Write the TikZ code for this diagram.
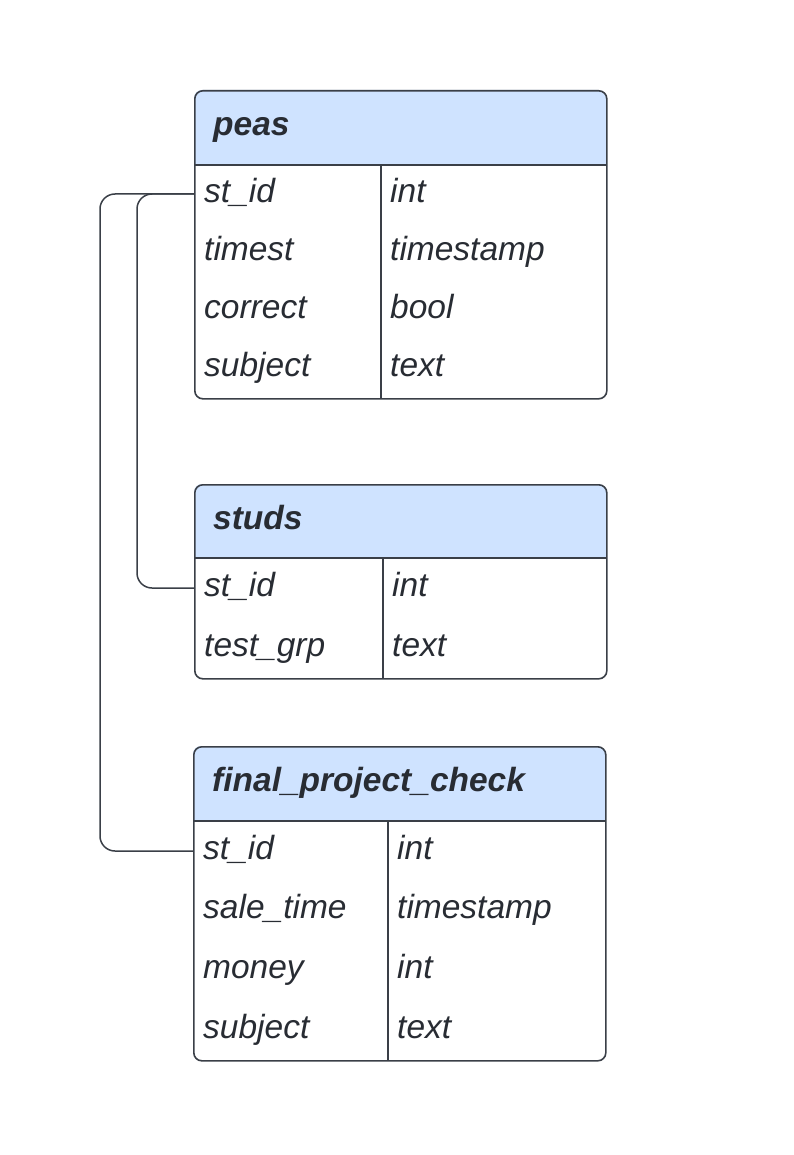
\documentclass[tikz,border=0pt]{standalone}
\usepackage{fontspec}
\setmainfont{Liberation Sans}
\usetikzlibrary{positioning}
\definecolor{edge}{HTML}{3A3F47}
\definecolor{ink}{HTML}{282C33}
\definecolor{headblue}{HTML}{CFE3FF}

\begin{document}
\begin{tikzpicture}[x=1pt, y=-1pt,
  tbl/.style={draw=edge, line width=1.6pt, rounded corners=8pt, minimum width=412pt, anchor=north west, inner sep=0pt},
  title/.style={font=\fontsize{33.5}{40}\selectfont\bfseries\itshape, text=ink, anchor=west, text height=24pt, text depth=7pt, inner sep=0pt},
  field/.style={font=\fontsize{33.5}{40}\selectfont\itshape, text=ink, anchor=west, text height=24pt, text depth=7pt, inner sep=0pt},
  rule/.style={draw=edge, line width=1.6pt},
  link/.style={draw=edge, line width=1.5pt, rounded corners=15pt}]
  \useasboundingbox[fill=white] (0,0) rectangle (793,1155);
  % header fills
  \fill[headblue, rounded corners=8pt] (194,90) rectangle (606,165);
  \fill[headblue] (194,130) rectangle (606,165);
  \fill[headblue, rounded corners=8pt] (194,484) rectangle (606,558);
  \fill[headblue] (194,520) rectangle (606,558);
  \fill[headblue, rounded corners=8pt] (193,746) rectangle (605,821);
  \fill[headblue] (193,780) rectangle (605,821);
  % peas
  \node[tbl, minimum height=308pt] (peas) at (194,90) {};
  \draw[rule] (194,165) -- (606,165);
  \draw[rule] (381,165) -- (381,398);
  \node[title] (peas name) at (213,127) {peas};
  \node[field] (peas id) at (204,194) {st\_id};
  \node[field] (peas ts) at (204,252) {timest};
  \node[field] (peas ok) at (204,310) {correct};
  \node[field] (peas subj) at (204,368) {subject};
  \node[field] (peas id t) at (390,194) {int};
  \node[field] (peas ts t) at (390,252) {timestamp};
  \node[field] (peas ok t) at (390,310) {bool};
  \node[field] (peas subj t) at (390,368) {text};
  % studs
  \node[tbl, minimum height=194pt] (studs) at (194,484) {};
  \draw[rule] (194,558) -- (606,558);
  \draw[rule] (383,558) -- (383,678);
  \node[title] (studs name) at (213,520.5) {studs};
  \node[field] (studs id) at (204,588) {st\_id};
  \node[field] (studs grp) at (204,648) {test\_grp};
  \node[field] (studs id t) at (392,588) {int};
  \node[field] (studs grp t) at (392,648) {text};
  % final_project_check
  \node[tbl, minimum height=314pt] (fpc) at (193,746) {};
  \draw[rule] (193,821) -- (605,821);
  \draw[rule] (388,821) -- (388,1060);
  \node[title] (fpc name) at (212,783) {final\_project\_check};
  \node[field] (fpc id) at (203,851) {st\_id};
  \node[field] (fpc time) at (203,910) {sale\_time};
  \node[field] (fpc money) at (203,970) {money};
  \node[field] (fpc subj) at (203,1030) {subject};
  \node[field] (fpc id t) at (397,851) {int};
  \node[field] (fpc time t) at (397,910) {timestamp};
  \node[field] (fpc money t) at (397,970) {int};
  \node[field] (fpc subj t) at (397,1030) {text};
  % links
  \draw[link] (peas id.west -| peas.west) -- ++(-57,0) |- (studs id.west -| studs.west);
  \draw[link] (peas id.west -| peas.west) -- ++(-94,0) |- (fpc id.west -| fpc.west);
\end{tikzpicture}
\end{document}
